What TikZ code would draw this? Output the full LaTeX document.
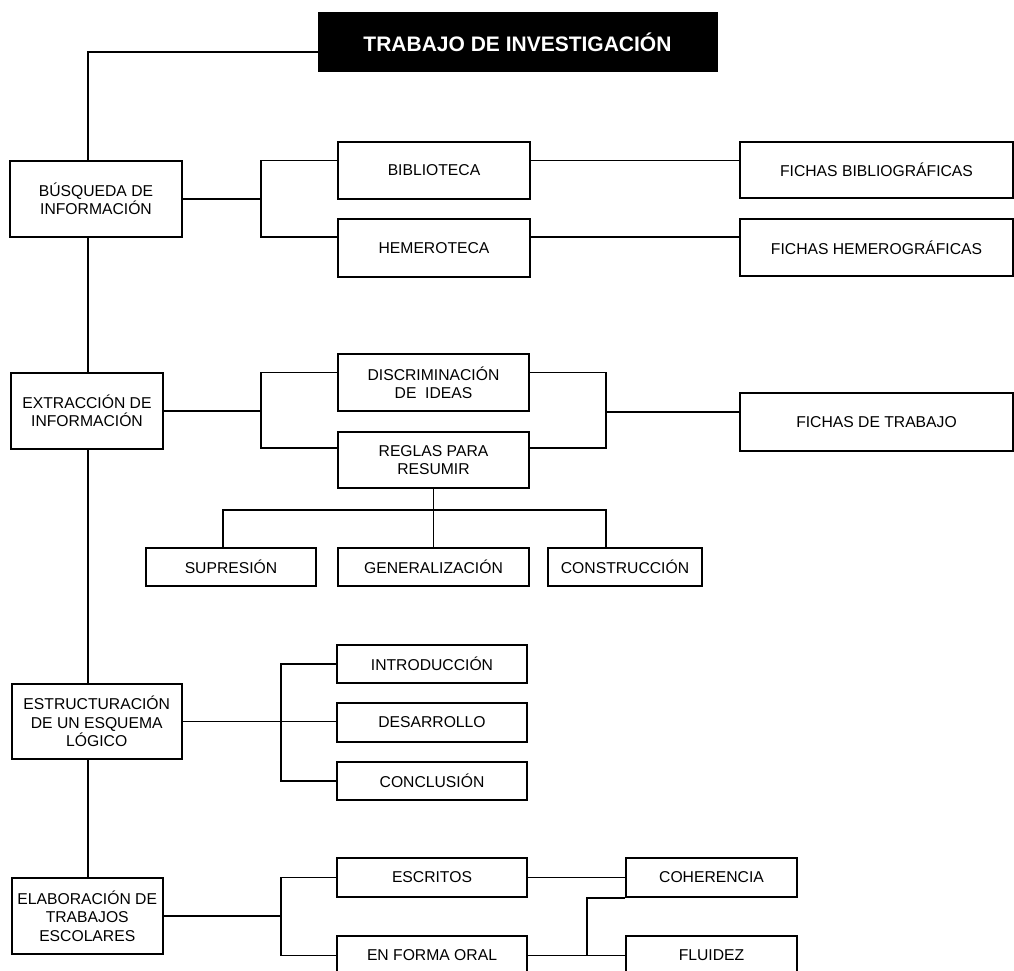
\documentclass[tikz,border=0pt]{standalone}
\usepackage{fontspec}
\setmainfont{Liberation Sans}
\usetikzlibrary{calc}

\tikzset{
  box/.style={draw=black, line width=2pt, fill=white, rectangle, align=center,
    inner sep=0pt, font=\fontsize{15.7}{18.3}\selectfont},
  headbox/.style={draw=black, line width=1pt, fill=black, text=white, rectangle,
    inner sep=0pt, font=\bfseries\fontsize{21}{25}\selectfont},
  link/.style={draw=black, line width=1.9pt},
}

\begin{document}
\begin{tikzpicture}[x=1pt, y=-1pt]
\useasboundingbox (0,0) rectangle (1014,971);
\clip (0,0) rectangle (1014,971);

% vertical guide positions of the spines
\coordinate (tk) at (88,0);
\coordinate (b1) at (261,0);
\coordinate (b2) at (606,0);
\coordinate (b3) at (281,0);
\coordinate (b4) at (587,0);
\coordinate (d1) at (223,0);
\coordinate (busy) at (0,510);
\coordinate (ty) at (0,52);

% title
\node[headbox, minimum width=399pt, minimum height=59pt] (title) at (517.5,42.5) {TRABAJO DE INVESTIGACIÓN};

% main stages
\node[box, minimum width=172pt, minimum height=76pt] (busq) at (96,199) {BÚSQUEDA DE\\INFORMACIÓN};
\node[box, minimum width=152pt, minimum height=76pt] (extr) at (87,411) {EXTRACCIÓN DE\\INFORMACIÓN};
\node[box, minimum width=170.5pt, minimum height=75pt] (estr) at (96.75,721.5) {ESTRUCTURACIÓN\\DE UN ESQUEMA\\LÓGICO};
\node[box, minimum width=151.5pt, minimum height=76pt] (elab) at (87.25,916) {ELABORACIÓN DE\\TRABAJOS\\ESCOLARES};

% search
\node[box, minimum width=192pt, minimum height=57pt] (bib) at (434,170.5) {BIBLIOTECA};
\node[box, minimum width=192pt, minimum height=58pt] (hem) at (434,248) {HEMEROTECA};
\node[box, minimum width=273pt, minimum height=56pt] (fbib) at (876.5,170) {FICHAS BIBLIOGRÁFICAS};
\node[box, minimum width=273pt, minimum height=57pt] (fhem) at (876.5,247.5) {FICHAS HEMEROGRÁFICAS};

% extraction
\node[box, minimum width=191pt, minimum height=57pt] (disc) at (433.5,382.5) {DISCRIMINACIÓN\\DE\ \ IDEAS};
\node[box, minimum width=191pt, minimum height=56pt] (regl) at (433.5,460) {REGLAS PARA\\RESUMIR};
\node[box, minimum width=273pt, minimum height=58pt] (ftrab) at (876.5,422) {FICHAS DE TRABAJO};
\node[box, minimum width=170pt, minimum height=38pt] (supr) at (231,567) {SUPRESIÓN};
\node[box, minimum width=191pt, minimum height=38pt] (gen) at (433.5,567) {GENERALIZACIÓN};
\node[box, minimum width=154pt, minimum height=38pt] (cons) at (625,567) {CONSTRUCCIÓN};

% outline
\node[box, minimum width=190pt, minimum height=38pt] (intro) at (432,664) {INTRODUCCIÓN};
\node[box, minimum width=190pt, minimum height=39pt] (desa) at (432,722.5) {DESARROLLO};
\node[box, minimum width=190pt, minimum height=38pt] (concl) at (432,781) {CONCLUSIÓN};

% school work
\node[box, minimum width=190pt, minimum height=39pt] (escr) at (432,877.5) {ESCRITOS};
\node[box, minimum width=190pt, minimum height=39pt] (oral) at (432,955.5) {EN FORMA ORAL};
\node[box, minimum width=171pt, minimum height=39pt] (coher) at (711.5,877.5) {COHERENCIA};
\node[box, minimum width=171pt, minimum height=39pt] (flu) at (711.5,955.5) {FLUIDEZ};

% attachment points on box sides
\coordinate (bibw) at ($(bib.north west)!0.33!(bib.south west)$);
\coordinate (hemw) at ($(hem.north west)!0.31!(hem.south west)$);
\coordinate (bibe) at ($(bib.north east)!0.33!(bib.south east)$);
\coordinate (heme) at ($(hem.north east)!0.31!(hem.south east)$);
\coordinate (discw) at ($(disc.north west)!0.33!(disc.south west)$);
\coordinate (reglw) at ($(regl.north west)!0.30!(regl.south west)$);
\coordinate (disce) at ($(disc.north east)!0.33!(disc.south east)$);
\coordinate (regle) at ($(regl.north east)!0.30!(regl.south east)$);
\coordinate (ftrw) at ($(ftrab.north west)!0.34!(ftrab.south west)$);

% main spine
\draw[link] (title.west |- ty) -| (busq.north -| tk);
\draw[link] (busq.south -| tk) -- (extr.north -| tk);
\draw[link] (extr.south -| tk) -- (estr.north -| tk);
\draw[link] (estr.south -| tk) -- (elab.north -| tk);

% search branch
\draw[link] (busq.east) -- (b1 |- busq.east);
\draw[link] (bibw) -| (b1 |- hemw) -- (hemw);
\draw[link] (bibe) -- (bibe -| fbib.west);
\draw[link] (heme) -- (heme -| fhem.west);

% extraction branch
\draw[link] (extr.east) -- (b1 |- extr.east);
\draw[link] (discw) -| (b1 |- reglw) -- (reglw);
\draw[link] (disce) -| (b2 |- regle) -- (regle);
\draw[link] (b2 |- ftrw) -- (ftrw);
\draw[link] (regl.south) -- (gen.north);
\draw[link] (supr.north -| d1) -- (d1 |- busy) -- (b2 |- busy) -- (cons.north -| b2);

% outline branch
\draw[link] (estr.east) -- (estr.east -| desa.west);
\draw[link] (intro.west) -| (b3 |- concl.west) -- (concl.west);

% school work branch
\draw[link] (elab.east) -- (b3 |- elab.east);
\draw[link] (escr.west) -| (b3 |- oral.west) -- (oral.west);
\draw[link] (escr.east) -- (coher.west);
\draw[link] (oral.east) -- (flu.west);
\draw[link] (coher.south west) -| (b4 |- flu.west);
\end{tikzpicture}
\end{document}
